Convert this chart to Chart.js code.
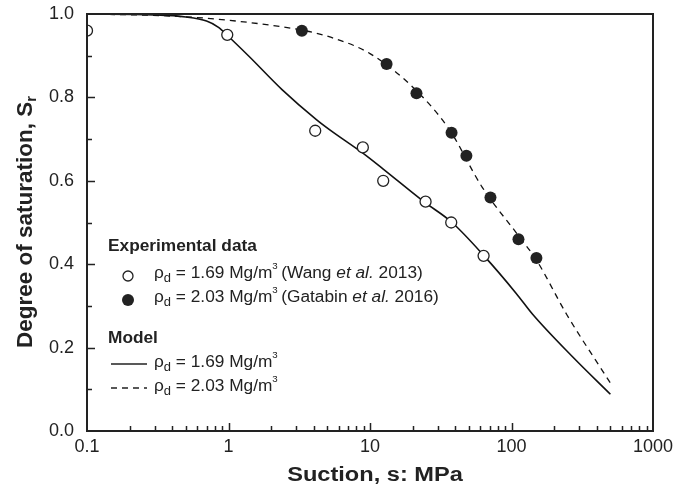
<!DOCTYPE html>
<html lang="en">
<head>
  <meta charset="UTF-8">
  <style>
    body { margin: 0; background: #fff; }
    #wrap { width: 676px; height: 492px; }
  </style>
</head>
<body>
  <div id="wrap"><canvas id="myChart"></canvas></div>

  <script src="https://cdn.jsdelivr.net/npm/chart.js"></script>
  <script>
    // Experimental data, rho_d = 1.69 (Wang et al. 2013)
    const wangSuction = [0.1, 0.98, 4.1, 8.9, 12.4, 24.7, 37.5, 63.5];
    const wangSr = [0.96, 0.95, 0.72, 0.68, 0.60, 0.55, 0.50, 0.42];

    // Experimental data, rho_d = 2.03 (Gatabin et al. 2016)
    const gatSuction = [3.3, 13.1, 21.3, 37.7, 48, 71, 112, 150];
    const gatSr = [0.96, 0.88, 0.81, 0.715, 0.66, 0.56, 0.46, 0.415];

    // Model curves
    const model169Suction = [0.1, 0.3, 0.5, 0.7, 0.85, 1, 1.4, 2.4, 4.2, 5.2, 9, 12.4, 24, 38, 64, 108, 141, 270, 500];
    const model169Sr = [1.0, 0.998, 0.993, 0.983, 0.968, 0.946, 0.898, 0.818, 0.746, 0.722, 0.665, 0.628, 0.55, 0.50, 0.42, 0.33, 0.28, 0.178, 0.088];
    const model203Suction = [0.1, 0.4, 1, 3.2, 5.2, 10, 20, 36, 62, 114, 150, 245, 500];
    const model203Sr = [1.0, 0.995, 0.985, 0.962, 0.945, 0.905, 0.825, 0.725, 0.585, 0.465, 0.41, 0.28, 0.115];

    const xTicks = [0.1, 1, 10, 100, 1000];
    const yTicks = [0, 0.2, 0.4, 0.6, 0.8, 1.0];

    const ink = '#222';

    function toPoints(xs, ys) {
      return xs.map((x, i) => ({ x: x, y: ys[i] }));
    }

    // draw a row of text pieces (sub/superscripts, italics), sx stretches it sideways
    function drawRich(ctx, x, y, parts, sx) {
      ctx.save();
      ctx.translate(x, y);
      ctx.scale(sx || 1, 1);
      let cx = 0;
      parts.forEach(p => {
        ctx.font = p.font;
        ctx.fillText(p.t, cx, p.dy || 0);
        cx += ctx.measureText(p.t).width;
      });
      ctx.restore();
    }

    function richWidth(ctx, parts) {
      let w = 0;
      parts.forEach(p => { ctx.font = p.font; w += ctx.measureText(p.t).width; });
      return w;
    }

    const FONT = "'Liberation Sans', Arial, sans-serif";
    const txt = '16px ' + FONT;
    const sub = '12px ' + FONT;
    const sup = '9px ' + FONT;
    const ital = 'italic 16px ' + FONT;
    const legSx = 1.08;

    function rhoParts(val) {
      return [
        { t: 'ρ', font: txt },
        { t: 'd', font: sub, dy: 5 },
        { t: ' = ' + val + ' Mg/m', font: txt },
        { t: '3', font: sup, dy: -7 }
      ];
    }

    const decorPlugin = {
      id: 'decor',
      afterDraw(chart) {
        const ctx = chart.ctx;
        const area = chart.chartArea;
        const xs = chart.scales.x;
        const ys = chart.scales.y;
        ctx.save();
        ctx.strokeStyle = ink;
        ctx.fillStyle = ink;

        // frame
        ctx.lineWidth = 2;
        ctx.strokeRect(area.left, area.top, area.right - area.left, area.bottom - area.top);

        // inward ticks
        ctx.lineWidth = 1.5;
        ctx.beginPath();
        for (let i = 1; i < 10; i++) {
          const py = Math.round(ys.getPixelForValue(i / 10)) + 0.5;
          const len = i % 2 === 0 ? 8 : 5;
          ctx.moveTo(area.left, py);
          ctx.lineTo(area.left + len, py);
        }
        [0.1, 1, 10, 100].forEach(d => {
          for (let m = 1; m <= 9; m++) {
            if (d === 0.1 && m === 1) continue;
            const px = Math.round(xs.getPixelForValue(d * m)) + 0.5;
            const len = m === 1 ? 8 : 5;
            ctx.moveTo(px, area.bottom);
            ctx.lineTo(px, area.bottom - len);
          }
        });
        ctx.stroke();

        // legend
        ctx.textBaseline = 'middle';
        ctx.textAlign = 'left';
        const head = 'bold 16px ' + FONT;
        drawRich(ctx, 108, 247, [{ t: 'Experimental data', font: head }], legSx);
        drawRich(ctx, 108, 339, [{ t: 'Model', font: head }], legSx);

        ctx.lineWidth = 1.3;
        ctx.beginPath();
        ctx.arc(128, 276, 5, 0, Math.PI * 2);
        ctx.fillStyle = '#fff';
        ctx.fill();
        ctx.stroke();
        ctx.fillStyle = ink;
        ctx.beginPath();
        ctx.arc(128, 300, 6, 0, Math.PI * 2);
        ctx.fill();

        drawRich(ctx, 154, 274, rhoParts('1.69').concat([
          { t: '\u2009(Wang ', font: txt }, { t: 'et al.', font: ital }, { t: ' 2013)', font: txt }
        ]), legSx);
        drawRich(ctx, 154, 298, rhoParts('2.03').concat([
          { t: '\u2009(Gatabin ', font: txt }, { t: 'et al.', font: ital }, { t: ' 2016)', font: txt }
        ]), legSx);

        ctx.lineWidth = 1.6;
        ctx.beginPath();
        ctx.moveTo(111, 364);
        ctx.lineTo(147, 364);
        ctx.stroke();
        ctx.lineWidth = 1.3;
        ctx.setLineDash([6, 5]);
        ctx.beginPath();
        ctx.moveTo(111, 388);
        ctx.lineTo(147, 388);
        ctx.stroke();
        ctx.setLineDash([]);
        drawRich(ctx, 154, 363, rhoParts('1.69'), legSx);
        drawRich(ctx, 154, 387, rhoParts('2.03'), legSx);

        // axis titles
        const xTitle = [{ t: 'Suction, s: MPa', font: 'bold 20px ' + FONT }];
        const xSx = 1.18;
        drawRich(ctx, 375 - richWidth(ctx, xTitle) * xSx / 2, 475, xTitle, xSx);

        const yTitle = [
          { t: 'Degree of saturation, S', font: 'bold 22.5px ' + FONT },
          { t: 'r', font: 'bold 15px ' + FONT, dy: 6 }
        ];
        ctx.translate(26, 222);
        ctx.rotate(-Math.PI / 2);
        drawRich(ctx, -richWidth(ctx, yTitle) / 2, 0, yTitle);
        ctx.restore();
      }
    };

    const ctx = document.getElementById('myChart').getContext('2d');
    const myChart = new Chart(ctx, {
      type: 'scatter',
      data: {
        datasets: [
          {
            label: 'Wang et al. 2013',
            data: toPoints(wangSuction, wangSr),
            pointRadius: 5.5,
            pointBackgroundColor: '#fff',
            pointBorderColor: ink,
            pointBorderWidth: 1.3
          },
          {
            label: 'Gatabin et al. 2016',
            data: toPoints(gatSuction, gatSr),
            pointRadius: 6,
            pointBackgroundColor: ink,
            pointBorderColor: ink,
            pointBorderWidth: 0
          },
          {
            label: 'Model 1.69',
            data: toPoints(model169Suction, model169Sr),
            showLine: true,
            borderColor: '#111',
            borderWidth: 1.6,
            pointRadius: 0,
            cubicInterpolationMode: 'monotone'
          },
          {
            label: 'Model 2.03',
            data: toPoints(model203Suction, model203Sr),
            showLine: true,
            borderColor: '#111',
            borderWidth: 1.3,
            borderDash: [6, 5],
            pointRadius: 0,
            cubicInterpolationMode: 'monotone'
          }
        ]
      },
      options: {
        responsive: true,
        maintainAspectRatio: false,
        animation: false,
        layout: { padding: { top: 14, right: 23, left: 0, bottom: 0 } },
        plugins: {
          legend: { display: false },
          tooltip: { enabled: false }
        },
        scales: {
          x: {
            type: 'logarithmic',
            min: 0.1,
            max: 1000,
            afterBuildTicks: scale => { scale.ticks = xTicks.map(v => ({ value: v })); },
            afterFit: scale => { scale.height = 61; scale.paddingLeft = 0; scale.paddingRight = 0; },
            ticks: {
              callback: v => String(v),
              font: { size: 18, family: FONT },
              color: ink,
              padding: 5,
              maxRotation: 0,
              autoSkip: false
            },
            grid: { display: false, drawTicks: false },
            border: { display: false }
          },
          y: {
            type: 'linear',
            min: 0,
            max: 1,
            afterBuildTicks: scale => { scale.ticks = yTicks.map(v => ({ value: v })); },
            afterFit: scale => { scale.width = 87; scale.paddingTop = 0; scale.paddingBottom = 0; },
            ticks: {
              callback: v => v.toFixed(1),
              font: { size: 18, family: FONT },
              color: ink,
              padding: 13
            },
            grid: { display: false, drawTicks: false },
            border: { display: false }
          }
        }
      },
      plugins: [decorPlugin]
    });
  </script>
</body>
</html>
